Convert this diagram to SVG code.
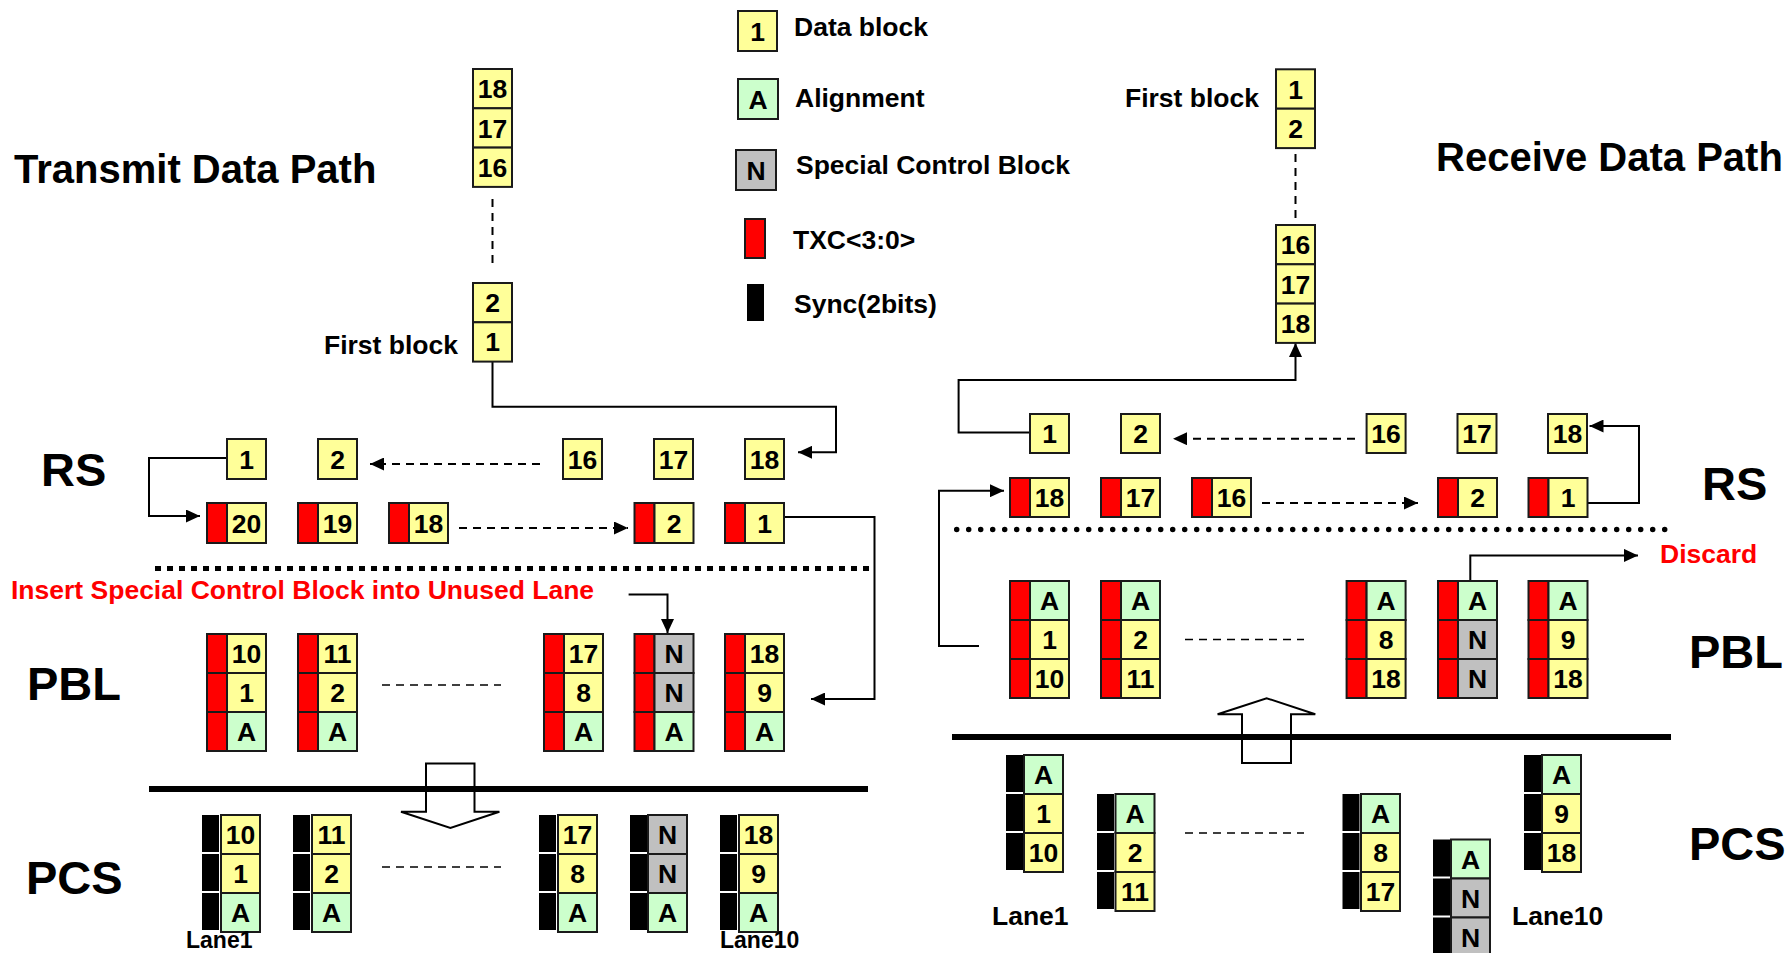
<svg xmlns="http://www.w3.org/2000/svg" width="1787" height="953" viewBox="0 0 1787 953">
<style>
rect{stroke:#1a1a1a;stroke-width:2}
.y{fill:#FFFF99}.g{fill:#CCFFCC}.n{fill:#C0C0C0}.r{fill:#FF0000}.k{fill:#000;stroke:none}
text{font-family:"Liberation Sans",Arial,sans-serif;font-weight:bold;fill:#000}
.b{font-size:26.5px;text-anchor:middle}
.l{font-size:26.5px}
.s{font-size:23px}
.h{font-size:47px}
.ti{font-size:40px}
.red{fill:#FF0000}
.c{fill:none;stroke:#000;stroke-width:2}
.d{fill:none;stroke:#000;stroke-width:2;stroke-dasharray:8 6}
</style>
<defs>
<marker id="ah" markerUnits="userSpaceOnUse" markerWidth="14" markerHeight="13" refX="14" refY="6.5" orient="auto"><path d="M0,0 L14,6.5 L0,13 z" fill="#000"/></marker>
</defs>
<rect width="1787" height="953" style="fill:#fff;stroke:none"/>
<g id="titles">
<text class="ti" x="14" y="183">Transmit Data Path</text>
<text class="ti" x="1436" y="171">Receive Data Path</text>
<text class="h" x="41" y="486">RS</text>
<text class="h" x="27" y="700">PBL</text>
<text class="h" x="26" y="894">PCS</text>
<text class="h" x="1702" y="500">RS</text>
<text class="h" x="1689" y="668">PBL</text>
<text class="h" x="1689" y="860">PCS</text>
<text class="l red" x="11" y="599">Insert Special Control Block into Unused Lane</text>
<text class="l red" x="1660" y="563">Discard</text>
<text class="l" x="992" y="925">Lane1</text>
<text class="l" x="1512" y="925">Lane10</text>
<text class="l" x="324" y="354">First block</text>
<text class="l" x="1125" y="107">First block</text>
</g>
<g id="legend">
<rect class="y" x="738" y="11" width="39" height="40"/><text class="b" x="757.5" y="40.5">1</text>
<text class="l" x="794" y="36">Data block</text>
<rect class="g" x="738" y="79" width="40" height="40"/><text class="b" x="758" y="108.5">A</text>
<text class="l" x="795" y="107">Alignment</text>
<rect class="n" x="736" y="150" width="40" height="40"/><text class="b" x="756" y="179.5">N</text>
<text class="l" x="796" y="174">Special Control Block</text>
<rect class="r" x="745" y="219" width="20" height="39"/>
<text class="l" x="793" y="249">TXC&lt;3:0&gt;</text>
<rect class="k" x="747" y="284" width="17" height="37"/>
<text class="l" x="794" y="313">Sync(2bits)</text>
</g>
<g id="connectors">
<path class="d" d="M492.5,199 V263"/>
<path class="c" d="M492.5,361.6 V406.7 H836 V452.3 H798" marker-end="url(#ah)"/>
<path class="d" d="M540,464 H370" marker-end="url(#ah)"/>
<path class="c" d="M227,458 H149 V516 H200" marker-end="url(#ah)"/>
<path class="d" d="M459,528 H628" marker-end="url(#ah)"/>
<path class="c" d="M784,517 H874.5 V699 H811" marker-end="url(#ah)"/>
<path class="c" d="M628.6,594.5 H667.5 V633" marker-end="url(#ah)"/>
<path class="d" d="M382,685 H501" style="stroke-width:1.5"/>
<path class="d" d="M382,867 H501" style="stroke-width:1.5"/>
<path d="M155,568.6 H870" fill="none" stroke="#000" stroke-width="5" stroke-dasharray="6 6"/>
<path d="M149,789 H868" fill="none" stroke="#000" stroke-width="6"/>
<polygon points="426,763.5 474.5,763.5 474.5,811.8 499.4,811.8 450.4,828 401,811.8 426,811.8" fill="none" stroke="#000" stroke-width="2"/>
<path class="d" d="M1295.5,154 V219"/>
<path class="c" d="M1030,432.6 H958.6 V380 H1295.5 V343" marker-end="url(#ah)"/>
<path class="d" d="M1355,438.7 H1173" marker-end="url(#ah)"/>
<path class="c" d="M1587.5,503 H1639 V426 H1589.5" marker-end="url(#ah)"/>
<path class="d" d="M1262,503 H1418" marker-end="url(#ah)"/>
<path class="c" d="M979,646 H939 V490.7 H1004" marker-end="url(#ah)"/>
<path class="c" d="M1470.3,581 V555.4 H1638" marker-end="url(#ah)"/>
<path class="d" d="M1185,639.4 H1304" style="stroke-width:1.5"/>
<path class="d" d="M1185,833 H1304" style="stroke-width:1.5"/>
<path d="M956.7,529.5 H1668" fill="none" stroke="#000" stroke-width="5.5" stroke-dasharray="0 12" stroke-linecap="round"/>
<path d="M952,737 H1671" fill="none" stroke="#000" stroke-width="6"/>
<polygon points="1242,763 1291,763 1291,714.2 1315.3,714.2 1266.6,698.2 1217.6,714.2 1242,714.2" fill="none" stroke="#000" stroke-width="2"/>
</g>
<g id="tx-stack">
<rect class="y" x="473" y="69" width="39" height="39.3"/><text class="b" x="492.5" y="98">18</text>
<rect class="y" x="473" y="108.3" width="39" height="39.3"/><text class="b" x="492.5" y="137.5">17</text>
<rect class="y" x="473" y="147.6" width="39" height="39.3"/><text class="b" x="492.5" y="176.8">16</text>
<rect class="y" x="473" y="283" width="39" height="39.3"/><text class="b" x="492.5" y="312">2</text>
<rect class="y" x="473" y="322.3" width="39" height="39.3"/><text class="b" x="492.5" y="351.4">1</text>
</g>
<g id="tx-rs-top">
<rect class="y" x="227" y="439" width="39" height="40"/><text class="b" x="246.5" y="468.5">1</text>
<rect class="y" x="318" y="439" width="39" height="40"/><text class="b" x="337.5" y="468.5">2</text>
<rect class="y" x="563" y="439" width="39" height="40"/><text class="b" x="582.5" y="468.5">16</text>
<rect class="y" x="654" y="439" width="39" height="40"/><text class="b" x="673.5" y="468.5">17</text>
<rect class="y" x="745" y="439" width="39" height="40"/><text class="b" x="764.5" y="468.5">18</text>
</g>
<g id="tx-rs-bottom">
<rect class="r" x="207" y="503" width="20" height="40"/><rect class="y" x="227" y="503" width="39" height="40"/><text class="b" x="246.5" y="532.5">20</text>
<rect class="r" x="298" y="503" width="20" height="40"/><rect class="y" x="318" y="503" width="39" height="40"/><text class="b" x="337.5" y="532.5">19</text>
<rect class="r" x="389" y="503" width="20" height="40"/><rect class="y" x="409" y="503" width="39" height="40"/><text class="b" x="428.5" y="532.5">18</text>
<rect class="r" x="634.5" y="503" width="20" height="40"/><rect class="y" x="654.5" y="503" width="39" height="40"/><text class="b" x="674" y="532.5">2</text>
<rect class="r" x="725" y="503" width="20" height="40"/><rect class="y" x="745" y="503" width="39" height="40"/><text class="b" x="764.5" y="532.5">1</text>
</g>
<g id="tx-pbl-1">
<rect class="r" x="207" y="634" width="20" height="39"/><rect class="y" x="227" y="634" width="39" height="39"/><text class="b" x="246.5" y="663">10</text>
<rect class="r" x="207" y="673" width="20" height="39"/><rect class="y" x="227" y="673" width="39" height="39"/><text class="b" x="246.5" y="702">1</text>
<rect class="r" x="207" y="712" width="20" height="39"/><rect class="g" x="227" y="712" width="39" height="39"/><text class="b" x="246.5" y="741">A</text>
</g>
<g id="tx-pbl-2">
<rect class="r" x="298" y="634" width="20" height="39"/><rect class="y" x="318" y="634" width="39" height="39"/><text class="b" x="337.5" y="663">11</text>
<rect class="r" x="298" y="673" width="20" height="39"/><rect class="y" x="318" y="673" width="39" height="39"/><text class="b" x="337.5" y="702">2</text>
<rect class="r" x="298" y="712" width="20" height="39"/><rect class="g" x="318" y="712" width="39" height="39"/><text class="b" x="337.5" y="741">A</text>
</g>
<g id="tx-pbl-8">
<rect class="r" x="544" y="634" width="20" height="39"/><rect class="y" x="564" y="634" width="39" height="39"/><text class="b" x="583.5" y="663">17</text>
<rect class="r" x="544" y="673" width="20" height="39"/><rect class="y" x="564" y="673" width="39" height="39"/><text class="b" x="583.5" y="702">8</text>
<rect class="r" x="544" y="712" width="20" height="39"/><rect class="g" x="564" y="712" width="39" height="39"/><text class="b" x="583.5" y="741">A</text>
</g>
<g id="tx-pbl-n">
<rect class="r" x="634.5" y="634" width="20" height="39"/><rect class="n" x="654.5" y="634" width="39" height="39"/><text class="b" x="674" y="663">N</text>
<rect class="r" x="634.5" y="673" width="20" height="39"/><rect class="n" x="654.5" y="673" width="39" height="39"/><text class="b" x="674" y="702">N</text>
<rect class="r" x="634.5" y="712" width="20" height="39"/><rect class="g" x="654.5" y="712" width="39" height="39"/><text class="b" x="674" y="741">A</text>
</g>
<g id="tx-pbl-9">
<rect class="r" x="725" y="634" width="20" height="39"/><rect class="y" x="745" y="634" width="39" height="39"/><text class="b" x="764.5" y="663">18</text>
<rect class="r" x="725" y="673" width="20" height="39"/><rect class="y" x="745" y="673" width="39" height="39"/><text class="b" x="764.5" y="702">9</text>
<rect class="r" x="725" y="712" width="20" height="39"/><rect class="g" x="745" y="712" width="39" height="39"/><text class="b" x="764.5" y="741">A</text>
</g>
<g id="tx-pcs-lane1">
<rect class="k" x="202" y="815" width="17" height="37"/><rect class="y" x="221" y="815" width="39" height="39"/><text class="b" x="240.5" y="844">10</text>
<rect class="k" x="202" y="854" width="17" height="37"/><rect class="y" x="221" y="854" width="39" height="39"/><text class="b" x="240.5" y="883">1</text>
<rect class="k" x="202" y="893" width="17" height="37"/><rect class="g" x="221" y="893" width="39" height="39"/><text class="b" x="240.5" y="921.5">A</text>
</g>
<g id="tx-pcs-lane2">
<rect class="k" x="293" y="815" width="17" height="37"/><rect class="y" x="312" y="815" width="39" height="39"/><text class="b" x="331.5" y="844">11</text>
<rect class="k" x="293" y="854" width="17" height="37"/><rect class="y" x="312" y="854" width="39" height="39"/><text class="b" x="331.5" y="883">2</text>
<rect class="k" x="293" y="893" width="17" height="37"/><rect class="g" x="312" y="893" width="39" height="39"/><text class="b" x="331.5" y="921.5">A</text>
</g>
<g id="tx-pcs-lane8">
<rect class="k" x="539" y="815" width="17" height="37"/><rect class="y" x="558" y="815" width="39" height="39"/><text class="b" x="577.5" y="844">17</text>
<rect class="k" x="539" y="854" width="17" height="37"/><rect class="y" x="558" y="854" width="39" height="39"/><text class="b" x="577.5" y="883">8</text>
<rect class="k" x="539" y="893" width="17" height="37"/><rect class="g" x="558" y="893" width="39" height="39"/><text class="b" x="577.5" y="921.5">A</text>
</g>
<g id="tx-pcs-lane9">
<rect class="k" x="630" y="815" width="17" height="37"/><rect class="n" x="648" y="815" width="39" height="39"/><text class="b" x="667.5" y="844">N</text>
<rect class="k" x="630" y="854" width="17" height="37"/><rect class="n" x="648" y="854" width="39" height="39"/><text class="b" x="667.5" y="883">N</text>
<rect class="k" x="630" y="893" width="17" height="37"/><rect class="g" x="648" y="893" width="39" height="39"/><text class="b" x="667.5" y="921.5">A</text>
</g>
<g id="tx-pcs-lane10">
<rect class="k" x="720" y="815" width="17" height="37"/><rect class="y" x="739" y="815" width="39" height="39"/><text class="b" x="758.5" y="844">18</text>
<rect class="k" x="720" y="854" width="17" height="37"/><rect class="y" x="739" y="854" width="39" height="39"/><text class="b" x="758.5" y="883">9</text>
<rect class="k" x="720" y="893" width="17" height="37"/><rect class="g" x="739" y="893" width="39" height="39"/><text class="b" x="758.5" y="921.5">A</text>
</g>
<g id="tx-lane-labels">
<text class="s" x="186" y="948">Lane1</text>
<text class="s" x="720" y="948">Lane10</text>
</g>
<g id="rx-stack">
<rect class="y" x="1276" y="69.3" width="39" height="39.4"/><text class="b" x="1295.5" y="98.5">1</text>
<rect class="y" x="1276" y="108.7" width="39" height="39.4"/><text class="b" x="1295.5" y="138">2</text>
<rect class="y" x="1276" y="225" width="39" height="39.3"/><text class="b" x="1295.5" y="254.2">16</text>
<rect class="y" x="1276" y="264.3" width="39" height="39.3"/><text class="b" x="1295.5" y="293.5">17</text>
<rect class="y" x="1276" y="303.6" width="39" height="39.3"/><text class="b" x="1295.5" y="332.8">18</text>
</g>
<g id="rx-rs-top">
<rect class="y" x="1030" y="414" width="39" height="39"/><text class="b" x="1049.5" y="443">1</text>
<rect class="y" x="1121" y="414" width="39" height="39"/><text class="b" x="1140.5" y="443">2</text>
<rect class="y" x="1366.6" y="414" width="39" height="39"/><text class="b" x="1386.1" y="443">16</text>
<rect class="y" x="1457.5" y="414" width="39" height="39"/><text class="b" x="1477" y="443">17</text>
<rect class="y" x="1548" y="414" width="39" height="39"/><text class="b" x="1567.5" y="443">18</text>
</g>
<g id="rx-rs-bottom">
<rect class="r" x="1010" y="478" width="20" height="39"/><rect class="y" x="1030" y="478" width="39" height="39"/><text class="b" x="1049.5" y="507">18</text>
<rect class="r" x="1101" y="478" width="20" height="39"/><rect class="y" x="1121" y="478" width="39" height="39"/><text class="b" x="1140.5" y="507">17</text>
<rect class="r" x="1192" y="478" width="20" height="39"/><rect class="y" x="1212" y="478" width="39" height="39"/><text class="b" x="1231.5" y="507">16</text>
<rect class="r" x="1438" y="478" width="20" height="39"/><rect class="y" x="1458" y="478" width="39" height="39"/><text class="b" x="1477.5" y="507">2</text>
<rect class="r" x="1528.5" y="478" width="20" height="39"/><rect class="y" x="1548.5" y="478" width="39" height="39"/><text class="b" x="1568" y="507">1</text>
</g>
<g id="rx-pbl-1">
<rect class="r" x="1010" y="581" width="20" height="39"/><rect class="g" x="1030" y="581" width="39" height="39"/><text class="b" x="1049.5" y="610">A</text>
<rect class="r" x="1010" y="620" width="20" height="39"/><rect class="y" x="1030" y="620" width="39" height="39"/><text class="b" x="1049.5" y="649">1</text>
<rect class="r" x="1010" y="659" width="20" height="39"/><rect class="y" x="1030" y="659" width="39" height="39"/><text class="b" x="1049.5" y="688">10</text>
</g>
<g id="rx-pbl-2">
<rect class="r" x="1101" y="581" width="20" height="39"/><rect class="g" x="1121" y="581" width="39" height="39"/><text class="b" x="1140.5" y="610">A</text>
<rect class="r" x="1101" y="620" width="20" height="39"/><rect class="y" x="1121" y="620" width="39" height="39"/><text class="b" x="1140.5" y="649">2</text>
<rect class="r" x="1101" y="659" width="20" height="39"/><rect class="y" x="1121" y="659" width="39" height="39"/><text class="b" x="1140.5" y="688">11</text>
</g>
<g id="rx-pbl-8">
<rect class="r" x="1346.6" y="581" width="20" height="39"/><rect class="g" x="1366.6" y="581" width="39" height="39"/><text class="b" x="1386.1" y="610">A</text>
<rect class="r" x="1346.6" y="620" width="20" height="39"/><rect class="y" x="1366.6" y="620" width="39" height="39"/><text class="b" x="1386.1" y="649">8</text>
<rect class="r" x="1346.6" y="659" width="20" height="39"/><rect class="y" x="1366.6" y="659" width="39" height="39"/><text class="b" x="1386.1" y="688">18</text>
</g>
<g id="rx-pbl-n">
<rect class="r" x="1438" y="581" width="20" height="39"/><rect class="g" x="1458" y="581" width="39" height="39"/><text class="b" x="1477.5" y="610">A</text>
<rect class="r" x="1438" y="620" width="20" height="39"/><rect class="n" x="1458" y="620" width="39" height="39"/><text class="b" x="1477.5" y="649">N</text>
<rect class="r" x="1438" y="659" width="20" height="39"/><rect class="n" x="1458" y="659" width="39" height="39"/><text class="b" x="1477.5" y="688">N</text>
</g>
<g id="rx-pbl-9">
<rect class="r" x="1528.5" y="581" width="20" height="39"/><rect class="g" x="1548.5" y="581" width="39" height="39"/><text class="b" x="1568" y="610">A</text>
<rect class="r" x="1528.5" y="620" width="20" height="39"/><rect class="y" x="1548.5" y="620" width="39" height="39"/><text class="b" x="1568" y="649">9</text>
<rect class="r" x="1528.5" y="659" width="20" height="39"/><rect class="y" x="1548.5" y="659" width="39" height="39"/><text class="b" x="1568" y="688">18</text>
</g>
<g id="rx-pcs-lane1">
<rect class="k" x="1006" y="755" width="17" height="37"/><rect class="g" x="1024" y="755" width="39" height="39"/><text class="b" x="1043.5" y="784">A</text>
<rect class="k" x="1006" y="794" width="17" height="37"/><rect class="y" x="1024" y="794" width="39" height="39"/><text class="b" x="1043.5" y="823">1</text>
<rect class="k" x="1006" y="833" width="17" height="37"/><rect class="y" x="1024" y="833" width="39" height="39"/><text class="b" x="1043.5" y="862">10</text>
</g>
<g id="rx-pcs-lane2">
<rect class="k" x="1097" y="794" width="17" height="37"/><rect class="g" x="1115.5" y="794" width="39" height="39"/><text class="b" x="1135" y="823">A</text>
<rect class="k" x="1097" y="833" width="17" height="37"/><rect class="y" x="1115.5" y="833" width="39" height="39"/><text class="b" x="1135" y="862">2</text>
<rect class="k" x="1097" y="872" width="17" height="37"/><rect class="y" x="1115.5" y="872" width="39" height="39"/><text class="b" x="1135" y="901">11</text>
</g>
<g id="rx-pcs-lane8">
<rect class="k" x="1342.5" y="794" width="17" height="37"/><rect class="g" x="1361" y="794" width="39" height="39"/><text class="b" x="1380.5" y="823">A</text>
<rect class="k" x="1342.5" y="833" width="17" height="37"/><rect class="y" x="1361" y="833" width="39" height="39"/><text class="b" x="1380.5" y="862">8</text>
<rect class="k" x="1342.5" y="872" width="17" height="37"/><rect class="y" x="1361" y="872" width="39" height="39"/><text class="b" x="1380.5" y="901">17</text>
</g>
<g id="rx-pcs-lane9">
<rect class="k" x="1433" y="839.5" width="17" height="37"/><rect class="g" x="1451" y="839.5" width="39" height="39"/><text class="b" x="1470.5" y="868.5">A</text>
<rect class="k" x="1433" y="878.5" width="17" height="37"/><rect class="n" x="1451" y="878.5" width="39" height="39"/><text class="b" x="1470.5" y="907.5">N</text>
<rect class="k" x="1433" y="917.5" width="17" height="37"/><rect class="n" x="1451" y="917.5" width="39" height="39"/><text class="b" x="1470.5" y="946.5">N</text>
</g>
<g id="rx-pcs-lane10">
<rect class="k" x="1524" y="755" width="17" height="37"/><rect class="g" x="1542" y="755" width="39" height="39"/><text class="b" x="1561.5" y="784">A</text>
<rect class="k" x="1524" y="794" width="17" height="37"/><rect class="y" x="1542" y="794" width="39" height="39"/><text class="b" x="1561.5" y="823">9</text>
<rect class="k" x="1524" y="833" width="17" height="37"/><rect class="y" x="1542" y="833" width="39" height="39"/><text class="b" x="1561.5" y="862">18</text>
</g>
</svg>
